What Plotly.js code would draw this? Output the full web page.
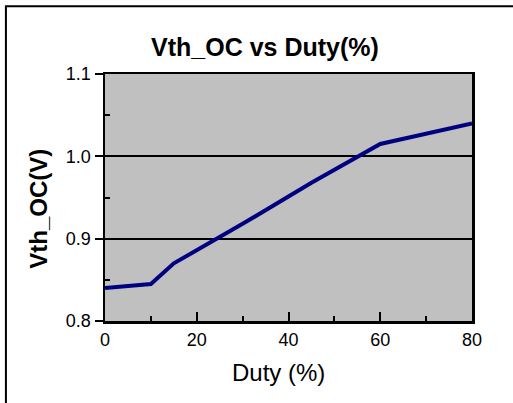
<!DOCTYPE html>
<html>
<head>
<meta charset="utf-8">
<script src="https://cdn.plot.ly/plotly-3.0.1.min.js"></script>
<style>html,body{margin:0;padding:0;background:#fff;}#chart{width:513px;height:403px;}</style>
</head>
<body>
<div id="chart"></div>
<script>
const duty = [0, 10, 15, 30, 45, 60, 80];
const vthOC = [0.84, 0.845, 0.87, 0.918, 0.968, 1.015, 1.04];
const xTicks = [0, 20, 40, 60, 80];
const yTicks = [0.8, 0.9, 1.0, 1.1];
const yTickLabels = ['0.8', '0.9', '1.0', '1.1'];

const FONT = 'Liberation Sans, Arial, sans-serif';

const trace = {
  x: duty, y: vthOC, type: 'scatter', mode: 'lines',
  line: {color: '#000080', width: 4}, showlegend: false, hoverinfo: 'skip'
};

const layout = {
  width: 513, height: 403,
  margin: {l: 105, r: 41, t: 74, b: 82},
  paper_bgcolor: '#ffffff', plot_bgcolor: '#c0c0c0',
  font: {family: FONT, color: '#000', size: 18},
  title: {text: '<b>Vth_OC vs Duty(%)</b>', font: {family: FONT, size: 25, color: '#000'},
          x: 265/513, xref: 'container', xanchor: 'center', y: 1 - 47/403, yref: 'container', yanchor: 'middle'},
  xaxis: {
    range: [0, 80], tickvals: xTicks, ticktext: xTicks.map(String),
    ticks: 'inside', ticklen: 9, tickwidth: 2, tickcolor: '#000',
    minor: {dtick: 10, tick0: 0, ticks: 'inside', ticklen: 5, tickwidth: 2, tickcolor: '#000', showgrid: false},
    showline: true, linecolor: '#000', linewidth: 2.5, mirror: true,
    showgrid: false, zeroline: false, ticklabelstandoff: 1,
    tickfont: {family: FONT, size: 18, color: '#000'}
  },
  yaxis: {
    range: [0.8, 1.1], tickvals: yTicks, ticktext: yTickLabels,
    ticks: 'outside', ticklen: 8, tickwidth: 2, tickcolor: '#000',
    minor: {tickvals: [0.85, 0.95, 1.05], ticks: 'inside', ticklen: 5, tickwidth: 2, tickcolor: '#000', showgrid: false},
    showline: true, linecolor: '#000', linewidth: 2.5, mirror: true,
    showgrid: true, gridcolor: '#000', gridwidth: 2, zeroline: false,
    tickfont: {family: FONT, size: 18, color: '#000'}
  },
  annotations: [
    {text: 'Duty (%)', xref: 'paper', yref: 'paper', x: (278.5-105)/366.7, y: (321-372)/246.5,
     xanchor: 'center', yanchor: 'middle', showarrow: false, font: {family: FONT, size: 24, color: '#000'}},
    {text: '<b>Vth_OC(V)</b>', xref: 'paper', yref: 'paper', x: (39-105)/366.7, y: (321-209)/246.5,
     xanchor: 'center', yanchor: 'middle', textangle: -90, showarrow: false, font: {family: FONT, size: 24, color: '#000'}}
  ],
  shapes: [
    {type: 'rect', xref: 'paper', yref: 'paper', x0: (6-105)/366.7, x1: 2, y0: -1, y1: (321-7)/246.5,
     line: {color: '#000', width: 2}, fillcolor: 'rgba(0,0,0,0)', layer: 'below'}
  ]
};

Plotly.newPlot('chart', [trace], layout, {staticPlot: true, displayModeBar: false});
</script>
</body>
</html>
